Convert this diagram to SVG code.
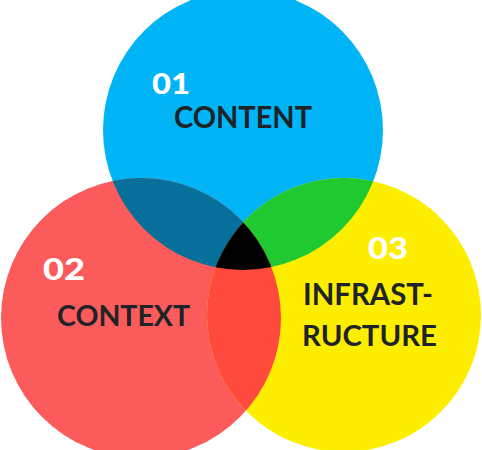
<svg xmlns="http://www.w3.org/2000/svg" width="482" height="450" viewBox="0 0 482 450">
<style>
.num{font-family:Lato,"Liberation Sans",sans-serif;font-weight:900;fill:#ffffff}
.lbl{font-family:Lato,"Liberation Sans",sans-serif;font-weight:bold;fill:#1e2328}
</style>
<defs>
<clipPath id="cBlue"><circle cx="243" cy="130" r="140"/></clipPath>
<clipPath id="cRed"><circle cx="141" cy="318" r="140"/></clipPath>
<clipPath id="cYellow"><circle cx="344" cy="315" r="137"/></clipPath>
</defs>
<rect width="482" height="450" fill="#ffffff"/>
<g id="content">
<circle cx="243" cy="130" r="140" fill="#00b4f6"/>
</g>
<g id="context">
<circle cx="141" cy="318" r="140" fill="#fc5b5b"/>
</g>
<g id="infrastructure">
<circle cx="344" cy="315" r="137" fill="#fdee00"/>
</g>
<g id="overlaps">
<g clip-path="url(#cBlue)"><circle cx="141" cy="318" r="140" fill="#06709b"/></g>
<g clip-path="url(#cBlue)"><circle cx="344" cy="315" r="137" fill="#1fc92f"/></g>
<g clip-path="url(#cRed)"><circle cx="344" cy="315" r="137" fill="#ff4a3e"/></g>
<g clip-path="url(#cRed)"><g clip-path="url(#cBlue)"><circle cx="344" cy="315" r="137" fill="#000000"/></g></g>
</g>
<g id="labels">
<text class="num" x="152" y="94" font-size="29" textLength="38" lengthAdjust="spacingAndGlyphs">01</text>
<text class="lbl" x="174" y="128" font-size="30" textLength="138" lengthAdjust="spacingAndGlyphs">CONTENT</text>
<text class="num" x="43" y="280" font-size="30" textLength="42" lengthAdjust="spacingAndGlyphs">02</text>
<text class="lbl" x="57" y="326" font-size="29" textLength="133" lengthAdjust="spacingAndGlyphs">CONTEXT</text>
<text class="num" x="368" y="259" font-size="30" textLength="40" lengthAdjust="spacingAndGlyphs">03</text>
<text class="lbl" x="303" y="305" font-size="30" textLength="130" lengthAdjust="spacingAndGlyphs">INFRAST-</text>
<text class="lbl" x="302" y="346" font-size="29" textLength="135" lengthAdjust="spacingAndGlyphs">RUCTURE</text>
</g>
</svg>
